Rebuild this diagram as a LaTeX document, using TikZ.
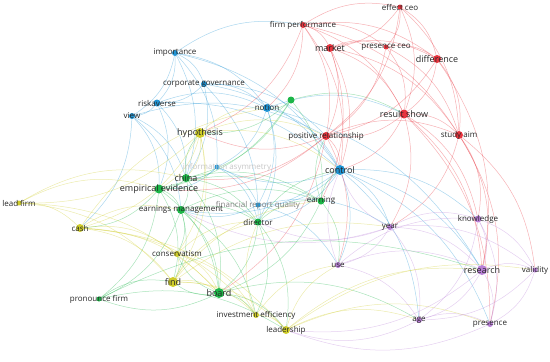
\documentclass[tikz,border=0pt]{standalone}
\usepackage{fontspec}
\setmainfont{Open Sans}
\usetikzlibrary{backgrounds}

\definecolor{cred}{RGB}{232,52,62}
\definecolor{cgreen}{RGB}{28,182,72}
\definecolor{cblue}{RGB}{32,148,212}
\definecolor{cyellow}{RGB}{206,204,42}
\definecolor{cpurple}{RGB}{186,128,216}

\begin{document}
\begin{tikzpicture}[x=1pt, y=-1pt,
    every label/.style={font=\fontsize{8}{8}\selectfont, text=black!85, inner sep=0pt},
    dot/.style={circle, inner sep=0pt, minimum size=#1},
    dot/.default=6pt,
    link/.style={line width=0.5pt, draw opacity=0.38, bend left=22}]
    \useasboundingbox (0,0) rectangle (550,362);

    % Draw nodes (blue)
    \node[dot, fill=cblue, label=center:importance] (importance) at (175,53) {};
    \node[dot, fill=cblue, label=center:corporate governance] (corpgov) at (204,84) {};
    \node[dot=7pt, fill=cblue, label=center:riskaverse] (riskaverse) at (157,103) {};
    \node[dot, fill=cblue, label=center:view] (view) at (132,116) {};
    \node[dot=8pt, fill=cblue, label=center:notion] (notion) at (267,108) {};
    \node[dot=10pt, fill=cblue, label={[font=\fontsize{9}{9}\selectfont]center:control}] (control) at (340,170) {};
    \node[dot=5pt, fill=cblue, label={[text=black!22, xshift=10pt]center:information asymmetry}] (infoasym) at (217,167) {};
    \node[dot=5pt, fill=cblue, label={[text=black!50]center:financial report quality}] (finrep) at (258,205) {};

    % Draw nodes (green)
    \node[dot=7pt, fill=cgreen] (share) at (291,100) {};
    \node[dot=8pt, fill=cgreen, label={[font=\fontsize{9}{9}\selectfont]center:china}] (china) at (186,178) {};
    \node[dot=9pt, fill=cgreen, label={[font=\fontsize{9}{9}\selectfont]center:empirical evidence}] (empirical) at (159,189) {};
    \node[dot=8pt, fill=cgreen, label=center:earnings management] (earnmgmt) at (181,210) {};
    \node[dot=7pt, fill=cgreen, label=center:director] (director) at (258,222) {};
    \node[dot=7pt, fill=cgreen, label=center:earning] (earning) at (321,201) {};
    \node[dot=10pt, fill=cgreen, label={[font=\fontsize{9}{9}\selectfont]center:board}] (board) at (219,293) {};
    \node[dot=5pt, fill=cgreen, label=center:pronounce firm] (pronounce) at (99,299) {};

    % Draw nodes (yellow)
    \node[dot=10pt, fill=cyellow, label={[font=\fontsize{9}{9}\selectfont]center:hypothesis}] (hypothesis) at (200,133) {};
    \node[dot=5pt, fill=cyellow, label=center:lead firm] (leadfirm) at (19,203) {};
    \node[dot=8pt, fill=cyellow, label=center:cash] (cash) at (80,228) {};
    \node[dot=6pt, fill=cyellow, label=center:conservatism] (conserv) at (177,254) {};
    \node[dot=10pt, fill=cyellow, label={[font=\fontsize{9}{9}\selectfont]center:find}] (find) at (173,282) {};
    \node[dot=6pt, fill=cyellow, label=center:investment efficiency] (investeff) at (256,315) {};
    \node[dot=8pt, fill=cyellow, label=center:leadership] (leadership) at (286,330) {};

    % Draw nodes (red)
    \node[dot, fill=cred, label=center:firm performance] (firmperf) at (303,25) {};
    \node[dot=5pt, fill=cred, label=center:effect ceo] (effectceo) at (400,7) {};
    \node[dot=8pt, fill=cred, label={[font=\fontsize{9}{9}\selectfont]center:market}] (market) at (330,48) {};
    \node[dot=5pt, fill=cred, label=center:presence ceo] (presceo) at (386,47) {};
    \node[dot=8pt, fill=cred, label={[font=\fontsize{9}{9}\selectfont]center:difference}] (difference) at (437,59) {};
    \node[dot=9pt, fill=cred, label={[font=\fontsize{9}{9}\selectfont]center:result show}] (result) at (404,114) {};
    \node[dot=8pt, fill=cred, label=center:positive relationship] (posrel) at (326,136) {};
    \node[dot=8pt, fill=cred, label=center:study aim] (studyaim) at (459,135) {};

    % Draw nodes (purple)
    \node[dot=6pt, fill=cpurple, label=center:year] (year) at (390,227) {};
    \node[dot=6pt, fill=cpurple, label=center:use] (use) at (338,265) {};
    \node[dot=7pt, fill=cpurple, label=center:knowledge] (knowledge) at (478,219) {};
    \node[dot=10pt, fill=cpurple, label={[font=\fontsize{9}{9}\selectfont]center:research}] (research) at (482,270) {};
    \node[dot=5pt, fill=cpurple, label=center:validity] (validity) at (535,270) {};
    \node[dot=6pt, fill=cpurple, label=center:age] (age) at (419,320) {};
    \node[dot=6pt, fill=cpurple, label=center:presence] (presence) at (490,324) {};

    % Draw connections
    \begin{pgfonlayer}{background}
    \foreach \a/\b in {importance/view, importance/riskaverse, importance/corpgov, importance/notion,
        importance/control, importance/china, importance/infoasym, importance/firmperf, corpgov/riskaverse,
        corpgov/notion, corpgov/control, corpgov/china, corpgov/director, corpgov/posrel, riskaverse/view,
        riskaverse/notion, riskaverse/empirical, riskaverse/china, riskaverse/control, view/china,
        view/empirical, view/earnmgmt, view/cash, view/posrel, notion/control, notion/infoasym,
        notion/director, notion/finrep, notion/result, notion/research, control/infoasym, control/finrep,
        control/director, control/year, control/research, control/knowledge, control/age,
        control/earnmgmt, control/use, control/presence, infoasym/finrep, infoasym/china,
        infoasym/empirical, infoasym/director, finrep/director, finrep/earnmgmt, finrep/use,
        finrep/year}
        \draw[link, cblue] (\a) to (\b);
    \foreach \a/\b in {share/notion, share/hypothesis, share/china, share/earning, share/result,
        share/empirical, china/empirical, china/earnmgmt, china/director, china/earning, china/board,
        china/hypothesis, empirical/earnmgmt, empirical/director, empirical/board, empirical/find,
        empirical/earning, empirical/cash, empirical/pronounce, earnmgmt/director, earnmgmt/board,
        earnmgmt/find, earnmgmt/conserv, earnmgmt/earning, earnmgmt/pronounce, earnmgmt/investeff,
        director/board, director/earning, director/investeff, director/leadership, director/control,
        earning/board, earning/control, earning/posrel, earning/use, board/find, board/pronounce,
        board/investeff, board/leadership, board/conserv, pronounce/find, pronounce/leadership,
        pronounce/research, board/age}
        \draw[link, cgreen] (\a) to (\b);
    \foreach \a/\b in {hypothesis/china, hypothesis/empirical, hypothesis/cash, hypothesis/find,
        hypothesis/leadfirm, hypothesis/control, hypothesis/notion, hypothesis/posrel, hypothesis/conserv,
        leadfirm/cash, leadfirm/empirical, leadfirm/find, leadfirm/board, leadfirm/china, cash/find,
        cash/board, cash/conserv, cash/investeff, cash/leadership, cash/earnmgmt, cash/notion,
        conserv/find, conserv/board, conserv/director, conserv/investeff, find/board, find/investeff,
        find/leadership, find/director, find/earning, find/year, investeff/leadership, investeff/use,
        investeff/director, leadership/age, leadership/research, leadership/use, leadership/presence,
        leadership/validity}
        \draw[link, cyellow] (\a) to (\b);
    \foreach \a/\b in {firmperf/market, firmperf/effectceo, firmperf/presceo, firmperf/result,
        firmperf/posrel, firmperf/difference, firmperf/studyaim, firmperf/notion, firmperf/control,
        effectceo/market, effectceo/presceo, effectceo/difference, effectceo/result, effectceo/studyaim,
        effectceo/posrel, market/presceo, market/difference, market/result, market/posrel,
        market/studyaim, market/control, presceo/difference, presceo/result, presceo/studyaim,
        presceo/posrel, difference/result, difference/studyaim, difference/posrel, difference/research,
        result/posrel, result/studyaim, result/control, result/year, result/research, result/knowledge,
        result/presence, posrel/control, posrel/studyaim, posrel/hypothesis, posrel/empirical,
        posrel/china, posrel/board, posrel/use, studyaim/research, studyaim/knowledge,
        studyaim/validity, studyaim/presence, studyaim/year, firmperf/hypothesis, market/earning}
        \draw[link, cred] (\a) to (\b);
    \foreach \a/\b in {year/knowledge, year/research, year/use, year/age, year/validity, year/control,
        year/director, year/earnmgmt, use/research, use/age, use/knowledge, use/control,
        knowledge/research, knowledge/validity, knowledge/presence, knowledge/age, research/validity,
        research/presence, research/age, research/leadership, validity/presence, validity/age,
        age/presence, age/leadership, presence/leadership}
        \draw[link, cpurple] (\a) to (\b);
    \end{pgfonlayer}
\end{tikzpicture}
\end{document}
